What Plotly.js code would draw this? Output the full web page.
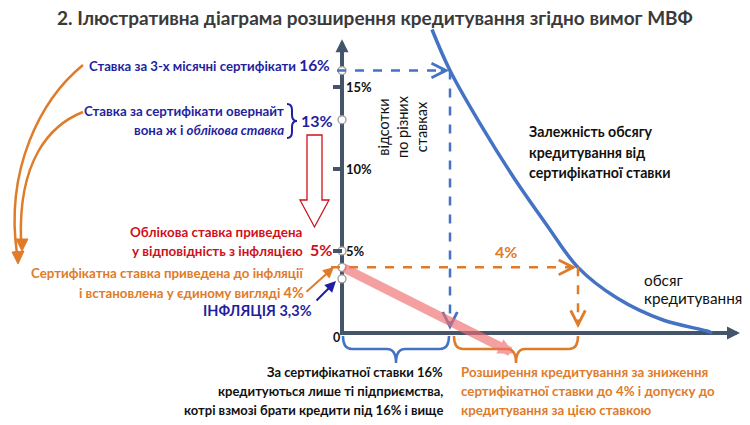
<!DOCTYPE html>
<html><head><meta charset="utf-8">
<script src="https://cdn.plot.ly/plotly-3.0.1.min.js"></script>
<style>body{margin:0;background:#fff}#chart{width:750px;height:425px}</style>
</head><body><div id="chart"></div>
<script>
// ---- data ----
const curveVolume = [22.5, 27, 35, 43, 51, 59, 68.75, 80.25, 91.25, 92.5];
const curveRate   = [18.5, 16, 12.56, 9.45, 6.65, 4.0, 2.13, 0.79, 0.12, 0];
const rateTicks = [5, 10, 15];
const rateTickLabels = ['5%', '10%', '15%'];
const keyRates = [16, 13, 5, 4, 3.3];
const certRate = 16, newCertRate = 4;
const volAtCert = 27, volAtNewCert = 59;
const expandedVolEnd = 43;   // end of the pink "expansion" arrow
const yAxisTop = 17.9, xAxisEnd = 99.5;

// ---- helpers (pixel -> paper) ----
const W = 750, H = 425;
const px = x => x / W, py = y => 1 - y / H;
const FONT = 'Lato, "Open Sans", sans-serif';
const NAVY = '#1f1f9f', RED = '#d0101a', ORANGE = '#e07b2a', BLUE = '#4472C4', AX = '#44546A';

function pathPx(d) {
  return d.replace(/(-?\d+\.?\d*),(-?\d+\.?\d*)/g, (m, a, b) => px(+a).toFixed(5) + ',' + py(+b).toFixed(5));
}
function brace(x0, x1, yt, ym, yb, r) {
  const xm = (x0 + x1) / 2;
  return `M${x0},${yt} Q${x0},${ym} ${x0 + r},${ym} L${xm - r},${ym} Q${xm},${ym} ${xm},${yb} Q${xm},${ym} ${xm + r},${ym} L${x1 - r},${ym} Q${x1},${ym} ${x1},${yt}`;
}

const traces = [
  {x: curveVolume, y: curveRate, mode: 'lines', line: {color: BLUE, width: 3.5, shape: 'spline', smoothing: 1}, hoverinfo: 'skip'},
  {x: keyRates.map(() => 0), y: keyRates, mode: 'markers',
   marker: {size: 8, color: '#ffffff', line: {color: '#9a9a9a', width: 1.3}}, hoverinfo: 'skip'}
];

const shapes = [
  {type: 'line', xref: 'x', yref: 'y', x0: 0, y0: -0.12, x1: 0, y1: yAxisTop - 0.6, line: {color: AX, width: 4}, layer: 'below'},
  {type: 'line', xref: 'x', yref: 'y', x0: -0.5, y0: 0, x1: xAxisEnd - 2, y1: 0, line: {color: AX, width: 4}, layer: 'below'},
  {type: 'line', xref: 'x', yref: 'y', x0: -1.25, y0: certRate, x1: volAtCert - 1, y1: certRate, line: {color: BLUE, width: 2.5, dash: 'dash'}},
  {type: 'line', xref: 'x', yref: 'y', x0: volAtCert, y0: certRate, x1: volAtCert, y1: 0.5, line: {color: BLUE, width: 2.5, dash: 'dash'}},
  {type: 'line', xref: 'x', yref: 'y', x0: -2.75, y0: newCertRate, x1: volAtNewCert - 1, y1: newCertRate, line: {color: ORANGE, width: 2.5, dash: 'dash'}},
  {type: 'line', xref: 'x', yref: 'y', x0: volAtNewCert, y0: newCertRate, x1: volAtNewCert, y1: 0.6, line: {color: ORANGE, width: 2.5, dash: 'dash'}},
  {type: 'path', xref: 'paper', yref: 'paper', path: pathPx(brace(343, 449, 336, 349, 363, 9)), line: {color: BLUE, width: 2.5}},
  {type: 'path', xref: 'paper', yref: 'paper', path: pathPx(brace(454, 578, 336, 349, 363, 9)), line: {color: ORANGE, width: 2.5}},
  {type: 'path', xref: 'paper', yref: 'paper', path: pathPx('M287,104 Q292,104 292,110 L292,115 Q292,121 297,121 Q292,121 292,127 L292,132 Q292,138 287,138'), line: {color: NAVY, width: 2}},
  {type: 'path', xref: 'paper', yref: 'paper', path: pathPx('M307,135 L322,135 L322,200 L329,200 L314.5,227 L300,200 L307,200 Z'), line: {color: RED, width: 1.3}, fillcolor: '#ffffff'},
  {type: 'path', xref: 'paper', yref: 'paper', path: pathPx('M83,65 C40,100 5,170 17,254'), line: {color: ORANGE, width: 2.5}},
  {type: 'path', xref: 'paper', yref: 'paper', path: pathPx('M83,112 C50,125 18,160 21,241'), line: {color: ORANGE, width: 2.5}},
  {type: 'path', xref: 'paper', yref: 'paper', path: pathPx('M18,264 L12,252 L24,251 Z'), line: {color: ORANGE, width: 1}, fillcolor: ORANGE},
  {type: 'path', xref: 'paper', yref: 'paper', path: pathPx('M22,251 L16,239 L28,239 Z'), line: {color: ORANGE, width: 1}, fillcolor: ORANGE}
];

function txt(x, y, text, o) {
  return Object.assign({xref: 'paper', yref: 'paper', x: px(x), y: py(y), text: text, showarrow: false, borderpad: 0,
    xanchor: 'right', yanchor: 'middle', font: {family: FONT, size: 13, color: '#111'}}, o || {});
}
const f = (size, color) => ({family: FONT, size: size, color: color});

const annotations = [
  {xref: 'x', yref: 'y', x: 0, y: yAxisTop, ax: 0, ay: 22, text: '', showarrow: true, arrowhead: 2, arrowsize: 0.65, arrowwidth: 4, arrowcolor: AX, standoff: 0},
  {xref: 'x', yref: 'y', x: xAxisEnd, y: 0, ax: -22, ay: 0, text: '', showarrow: true, arrowhead: 2, arrowsize: 0.65, arrowwidth: 4, arrowcolor: AX, standoff: 0},
  {xref: 'x', yref: 'y', x: volAtCert - 0.2, y: certRate, ax: -10, ay: 0, text: '', showarrow: true, arrowhead: 5, arrowsize: 1.3, arrowwidth: 2.2, arrowcolor: BLUE, standoff: 0},
  {xref: 'x', yref: 'y', x: volAtCert, y: 0.2, ax: 0, ay: -10, text: '', showarrow: true, arrowhead: 5, arrowsize: 1.3, arrowwidth: 2.2, arrowcolor: BLUE, standoff: 0},
  {xref: 'x', yref: 'y', x: volAtNewCert - 0.4, y: newCertRate, ax: -10, ay: 0, text: '', showarrow: true, arrowhead: 5, arrowsize: 1.3, arrowwidth: 2.2, arrowcolor: ORANGE, standoff: 0},
  {xref: 'x', yref: 'y', x: volAtNewCert, y: 0.3, ax: 0, ay: -10, text: '', showarrow: true, arrowhead: 5, arrowsize: 1.3, arrowwidth: 2.2, arrowcolor: ORANGE, standoff: 0},
  {xref: 'x', yref: 'y', axref: 'x', ayref: 'y', x: expandedVolEnd, y: -1.25, ax: 0.2, ay: newCertRate, text: '', showarrow: true,
   arrowhead: 2, arrowsize: 0.35, arrowwidth: 9, arrowcolor: 'rgba(240,110,110,0.65)', standoff: 0},
  {xref: 'paper', yref: 'paper', x: px(334), y: py(267), ax: -29, ay: 26, text: '', showarrow: true, arrowhead: 2, arrowsize: 1.1, arrowwidth: 2, arrowcolor: ORANGE, standoff: 0},
  {xref: 'paper', yref: 'paper', x: px(336), y: py(281), ax: -21, ay: 21, text: '', showarrow: true, arrowhead: 2, arrowsize: 1.1, arrowwidth: 2, arrowcolor: NAVY, standoff: 0},

  txt(331, 65, "<b>Ставка за 3-х місячні сертифікати <span style='font-size:15.5px'>16%</span></b>", {font: f(13.2, NAVY)}),
  txt(285, 111, '<b>Ставка за сертифікати овернайт</b>', {font: f(13.3, NAVY)}),
  txt(285, 130, '<b>вона ж і <i>облікова ставка</i></b>', {font: f(13.3, NAVY)}),
  txt(300, 121, '<b>13%</b>', {xanchor: 'left', font: f(16, NAVY)}),
  txt(304, 232, '<b>Облікова ставка приведена</b>', {font: f(13.4, RED)}),
  txt(304, 251, '<b>у відповідність з інфляцією</b>', {font: f(13.4, RED)}),
  txt(309, 249, '<b>5%</b>', {xanchor: 'left', font: f(16, RED)}),
  txt(305, 273, '<b>Сертифікатна ставка приведена до інфляції</b>', {font: f(13.3, ORANGE)}),
  txt(305, 292, "<b>і встановлена у єдиному вигляді <span style='font-size:14.5px'>4%</span></b>", {font: f(13.3, ORANGE)}),
  txt(313, 310.5, '<b>ІНФЛЯЦІЯ 3,3%</b>', {font: f(14.5, NAVY)}),
  txt(506, 251, '<b>4%</b>', {xanchor: 'center', font: f(16, ORANGE)}),
  txt(336, 337, '<b>0</b>', {xanchor: 'center', font: f(12.5, '#111')}),
  txt(402, 127, 'відсотки<br>по різних<br>ставках', {xanchor: 'center', textangle: -90, font: f(14.5, '#111')}),
  txt(528, 132, '<b>Залежність обсягу</b>', {xanchor: 'left', font: f(14.2, '#111')}),
  txt(528, 152, '<b>кредитування від</b>', {xanchor: 'left', font: f(14.2, '#111')}),
  txt(528, 172, '<b>сертифікатної ставки</b>', {xanchor: 'left', font: f(14.2, '#111')}),
  txt(643, 280, 'обсяг', {xanchor: 'left', font: f(15.3, '#111')}),
  txt(643, 298, 'кредитування', {xanchor: 'left', font: f(15.3, '#111')}),
  txt(444, 372, '<b>За сертифікатної ставки 16%</b>', {font: f(13, '#111')}),
  txt(444, 391, '<b>кредитуються лише ті підприємства,</b>', {font: f(13, '#111')}),
  txt(444, 410, '<b>котрі взмозі брати кредити під 16% і вище</b>', {font: f(13, '#111')}),
  txt(460, 372, '<b>Розширення кредитування за зниження</b>', {xanchor: 'left', font: f(13.3, ORANGE)}),
  txt(460, 391, '<b>сертифікатної ставки до 4% і допуску до</b>', {xanchor: 'left', font: f(13.3, ORANGE)}),
  txt(460, 410, '<b>кредитування за цією ставкою</b>', {xanchor: 'left', font: f(13.3, ORANGE)})
];

const layout = {
  width: W, height: H, autosize: false,
  margin: {l: 0, r: 0, t: 0, b: 0},
  paper_bgcolor: '#ffffff', plot_bgcolor: '#ffffff',
  showlegend: false,
  title: {text: '<b>2. Ілюстративна діаграма розширення кредитування згідно вимог МВФ</b>',
          x: 0.5, xanchor: 'center', xref: 'container', y: 1 - 18 / H, yanchor: 'middle', yref: 'container',
          font: {family: FONT, size: 19, color: '#3a3a3a'}},
  xaxis: {range: [-85.5, 102], visible: false, fixedrange: true},
  yaxis: {range: [-5.61, 20.30], anchor: 'free', position: 342 / W, side: 'left',
          showgrid: false, zeroline: false, showline: false,
          tickmode: 'array', tickvals: rateTicks, ticktext: rateTickLabels,
          ticks: 'outside', ticklen: 9, tickwidth: 4, tickcolor: AX,
          ticklabelposition: 'inside', tickfont: {family: FONT, size: 13, color: '#111', weight: 'bold'}, fixedrange: true},
  shapes: shapes, annotations: annotations
};
Plotly.newPlot('chart', traces, layout, {staticPlot: true, displayModeBar: false});
</script></body></html>
